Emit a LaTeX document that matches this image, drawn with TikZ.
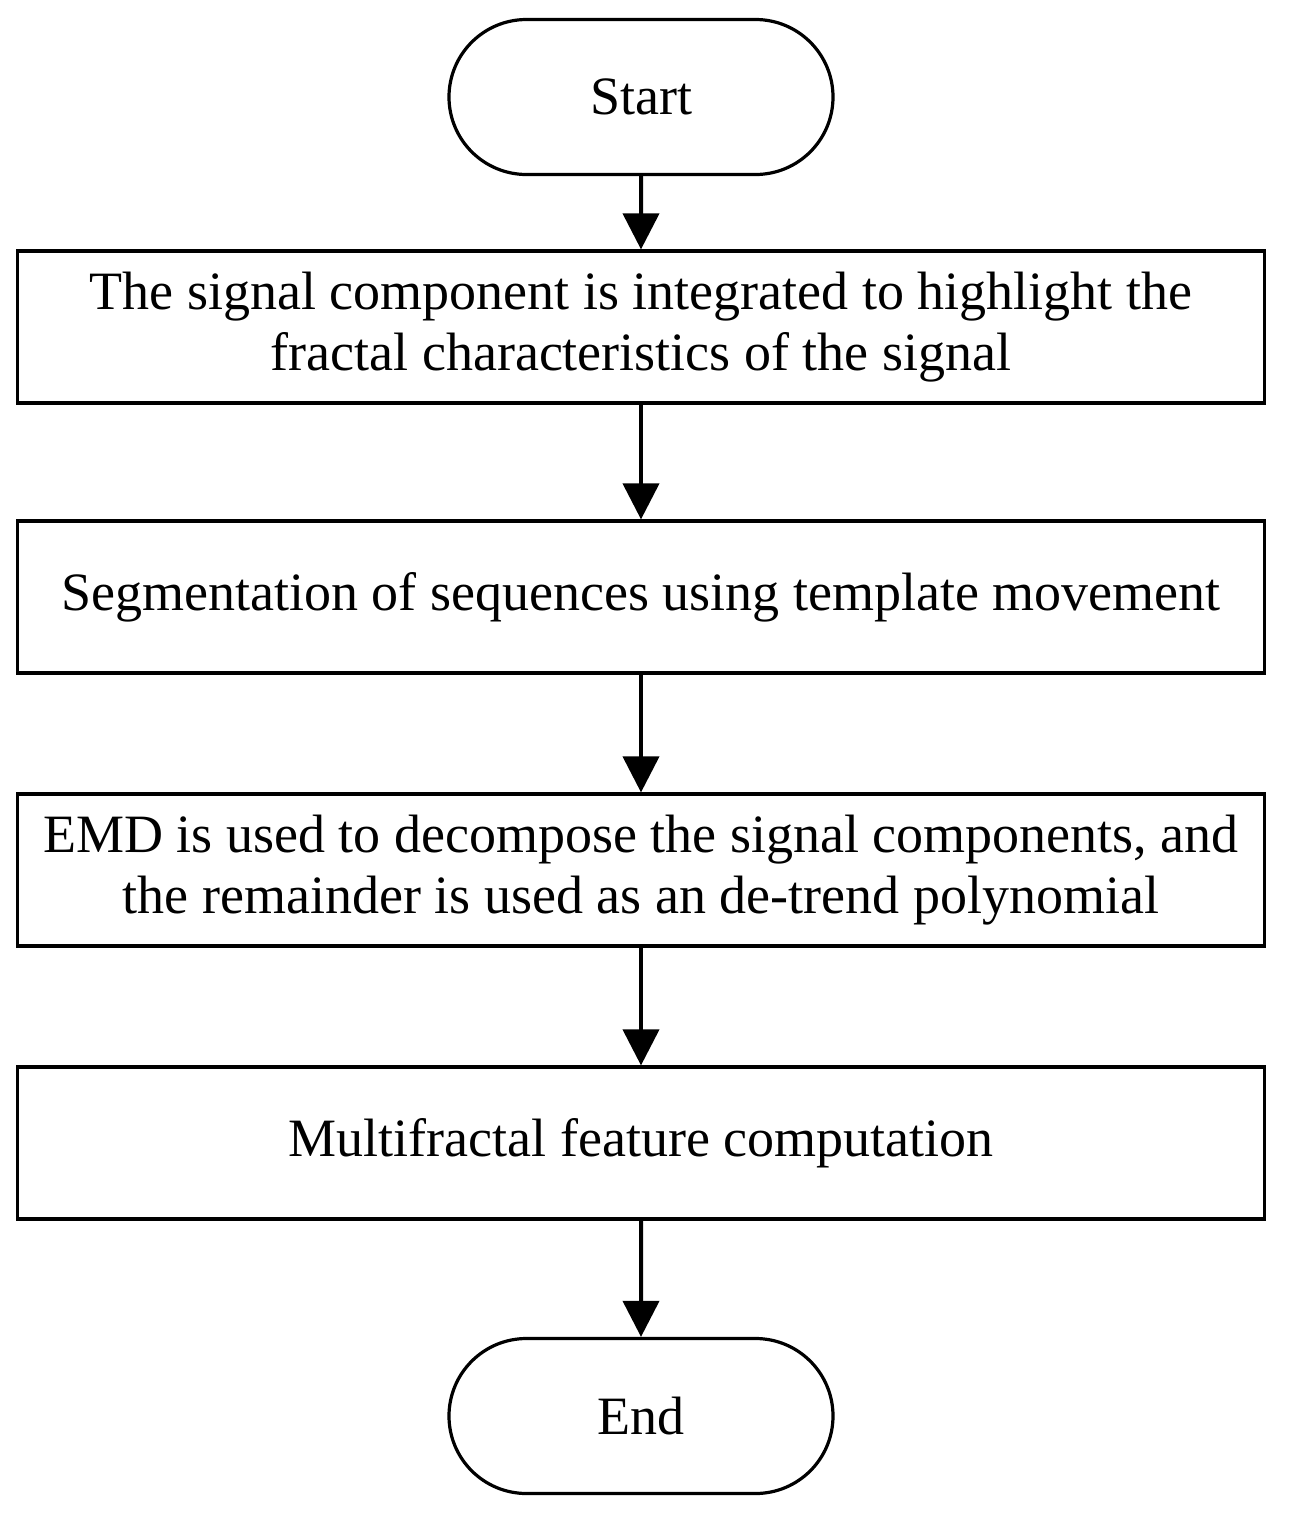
\documentclass[tikz,border=0pt]{standalone}
\usepackage{fontspec}
\setmainfont{Liberation Serif}
\usetikzlibrary{arrows.meta,shapes.misc}
\begin{document}
\begin{tikzpicture}[x=0.5pt,y=-0.5pt,
  box/.style={draw,line width=1.6pt,minimum width=623.5pt,minimum height=76pt,align=center,inner sep=0pt,font=\fontsize{27}{30.5}\selectfont},
  term/.style={draw,line width=1.6pt,rounded rectangle,minimum width=192pt,minimum height=77.5pt,inner sep=0pt,font=\fontsize{27}{30.5}\selectfont},
  arr/.style={line width=2pt,-{Triangle[length=18pt,width=18pt]}}]
\useasboundingbox (0,0) rectangle (1289,1522);
\node[term] (s) at (641,97) {Start};
\node[box] (b1) at (641,327) {The signal component is integrated to highlight the\\fractal characteristics of the signal};
\node[box] (b2) at (641,597) {Segmentation of sequences using template movement};
\node[box] (b3) at (641,870) {EMD is used to decompose the signal components, and\\the remainder is used as an de-trend polynomial};
\node[box] (b4) at (641,1143) {Multifractal feature computation};
\node[term] (e) at (641,1416) {End};
\draw[arr] (s) -- (b1);
\draw[arr] (b1) -- (b2);
\draw[arr] (b2) -- (b3);
\draw[arr] (b3) -- (b4);
\draw[arr] (b4) -- (e);
\end{tikzpicture}
\end{document}
